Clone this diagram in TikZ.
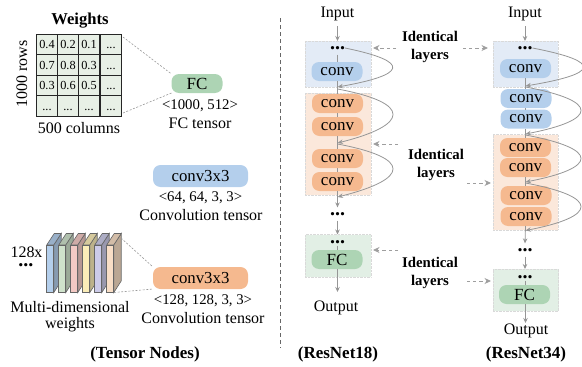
\documentclass[tikz,border=0pt]{standalone}
\usepackage{fontspec}
\setmainfont{Liberation Serif}
\usetikzlibrary{arrows.meta}
\definecolor{pillblue}{HTML}{B4CFEC}
\definecolor{pillorange}{HTML}{F5B98F}
\definecolor{pillgreen}{HTML}{ADD4B4}
\definecolor{regblue}{HTML}{E3EBF6}
\definecolor{regorange}{HTML}{FBE8DB}
\definecolor{reggreen}{HTML}{E2EFE5}
\definecolor{cellgreen}{HTML}{E8F0E6}
\definecolor{linegray}{HTML}{969696}
\definecolor{wa}{HTML}{B4CFEC}
\definecolor{wb}{HTML}{CFE2CB}
\definecolor{wc}{HTML}{F3C9C4}
\definecolor{wd}{HTML}{FBEDB8}
\definecolor{we}{HTML}{CCCBE8}
\definecolor{wf}{HTML}{F8DEC6}
\newcommand{\fsz}[1]{\fontsize{#1}{18}\selectfont}
\begin{document}
\begin{tikzpicture}[x=1pt,y=-1pt,
    every node/.style={inner sep=0pt,outer sep=0pt},
    txt/.style={font=\fsz{16}},
    small/.style={font=\fsz{14.8}},
    head/.style={font=\fsz{17}\bfseries},
    same/.style={font=\fsz{14.8}\bfseries,align=center},
    cell/.style={draw=black!85,line width=0.7pt,fill=cellgreen,minimum width=21.2pt,minimum height=20.5pt,font=\fsz{12.3},text height=8.4pt,text depth=0pt},
    pill/.style={rounded corners=7.5pt,minimum width=51pt,minimum height=19pt,font=\fsz{17}},
    widepill/.style={rounded corners=7.5pt,minimum width=95pt,minimum height=22pt,font=\fsz{16.8}},
    region/.style={draw=black!15,densely dotted,line width=0.4pt},
    dots/.style={font=\fsz{20}\bfseries},
    flow/.style={draw=linegray,line width=0.8pt,-{Stealth[length=5pt,width=4.5pt]}},
    plain/.style={draw=linegray,line width=0.8pt},
    skip/.style={draw=linegray,line width=0.8pt,-{Stealth[length=5.5pt,width=4.5pt]}},
    note/.style={draw=black!40,dash pattern=on 2pt off 1.6pt,line width=0.6pt},
    same arrow/.style={draw=black!38,dash pattern=on 3.2pt off 3pt,line width=0.9pt,-{Stealth[length=6.5pt,width=6pt]}},
    block/.style={draw=black!60,line width=0.6pt}]
    \useasboundingbox (0,0) rectangle (582,367);

    % weights table
    \node[font=\fsz{16.6}\bfseries] (weights) at (80,21) {Weights};
    \node[cell] (c11) at (47,44.5) {0.4};
    \node[cell] (c12) at (68,44.5) {0.2};
    \node[cell] (c13) at (89,44.5) {0.1};
    \node[cell] (c14) at (111,44.5) {...};
    \node[cell] (c21) at (47,65) {0.7};
    \node[cell] (c22) at (68,65) {0.8};
    \node[cell] (c23) at (89,65) {0.3};
    \node[cell] (c24) at (111,65) {...};
    \node[cell] (c31) at (47,85.5) {0.3};
    \node[cell] (c32) at (68,85.5) {0.6};
    \node[cell] (c33) at (89,85.5) {0.5};
    \node[cell] (c34) at (111,85.5) {...};
    \node[cell] (c41) at (47,106) {...};
    \node[cell] (c42) at (68,106) {...};
    \node[cell] (c43) at (89,106) {...};
    \node[cell] (c44) at (111,106) {...};
    \node[txt,rotate=90] (rows) at (22,74) {1000 rows};
    \node[txt] (columns) at (79,128.5) {500 columns};

    % tensor nodes
    \node[pill,fill=pillgreen] (fc) at (197,83.5) {FC};
    \node[small] (fcshape) at (200,106) {<1000, 512>};
    \node[txt] (fcname) at (200,123.5) {FC tensor};
    \node[widepill,fill=pillblue] (conva) at (200.5,176) {conv3x3};
    \node[small] (convashape) at (200.5,198) {<64, 64, 3, 3>};
    \node[txt] (convaname) at (201,215.5) {Convolution tensor};
    \node[widepill,fill=pillorange] (convb) at (200.5,278) {conv3x3};
    \node[small] (convbshape) at (203,301) {<128, 128, 3, 3>};
    \node[txt] (convbname) at (203,318.5) {Convolution tensor};

    % stacked weights
    \foreach \n/\x/\c in {1/46.7/wa,2/58.7/wb,3/70.7/wc,4/82.7/wd,5/94.7/we,6/106.7/wf}{
        \fill[\c!75!black,block] (\x+7,245) -- (\x+14.5,233.5) -- (\x+14.5,281) -- (\x+7,292.7) -- cycle;
        \fill[\c!85!black,block] (\x,245) -- (\x+7.5,233.5) -- (\x+14.5,233.5) -- (\x+7,245) -- cycle;
        \node[draw=black!60,line width=0.6pt,fill=\c,minimum width=7pt,minimum height=47.7pt] (w\n) at (\x+3.5,268.85) {};
    }
    \node[txt] (times) at (26.5,252) {128x};
    \node[dots] (timesdots) at (26,265) {...};
    \node[txt] (multi) at (70,307.5) {Multi-dimensional};
    \node[txt] (multib) at (70,325) {weights};
    \node[head] (tensorcap) at (145,354) {(Tensor Nodes)};

    \coordinate (gtop) at (123,37);
    \coordinate (gbot) at (123,113);
    \coordinate (wtop) at (121,238);
    \coordinate (wbot) at (114,292.5);
    \draw[note] (gtop) -- (fc.north west);
    \draw[note] (gbot) -- (fc.south west);
    \draw[note] (wtop) -- (convb.north west);
    \draw[note] (wbot) -- (convb.south west);

    % divider
    \coordinate (divtop) at (280,18);
    \coordinate (divbot) at (280,348);
    \draw[black!60,dash pattern=on 4pt off 3pt,line width=0.8pt] (divtop) -- (divbot);

    % ResNet18
    \node[region,fill=regblue,minimum width=66pt,minimum height=46pt] (r18a) at (338,64) {};
    \node[region,fill=regorange,minimum width=66pt,minimum height=102pt] (r18b) at (338,144) {};
    \node[region,fill=reggreen,minimum width=66pt,minimum height=42.5pt] (r18c) at (338,255.75) {};
    \node[txt] (in18) at (337.5,13.5) {Input};
    \node[dots] (d18a) at (337.5,48) {...};
    \node[pill,fill=pillblue] (a1) at (337,71.5) {conv};
    \node[pill,fill=pillorange] (a2) at (337.5,103.5) {conv};
    \node[pill,fill=pillorange] (a3) at (337.5,126.5) {conv};
    \node[pill,fill=pillorange] (a4) at (337.5,158.5) {conv};
    \node[pill,fill=pillorange] (a5) at (337.5,181.5) {conv};
    \node[dots] (d18b) at (337.5,214) {...};
    \node[dots] (d18c) at (337.5,242) {...};
    \node[pill,fill=pillgreen] (a6) at (337,259.5) {FC};
    \node[txt] (out18) at (336,308) {Output};
    \node[head] (cap18) at (338,354) {(ResNet18)};
    \coordinate (j18a) at (337.5,87);
    \coordinate (j18b) at (337.5,143);
    \coordinate (j18c) at (337.5,197);
    \coordinate (j18d) at (337.5,292);

    \draw[flow] (in18.south)++(0,6) -- (r18a.north -| in18);
    \draw[plain] (d18a.south -| j18a) ++(0,5) -- (a1.north -| j18a);
    \draw[plain] (a1.south -| j18a) -- (a2.north -| j18a);
    \draw[plain] (a2.south -| j18a) -- (a3.north -| j18a);
    \draw[plain] (a3.south -| j18a) -- (a4.north -| j18a);
    \draw[plain] (a4.south -| j18a) -- (a5.north -| j18a);
    \draw[flow] (a5.south -| j18a) -- ([yshift=5pt]d18b.north);
    \draw[flow] (d18b.south)++(0,5) -- (r18c.north -| d18b);
    \draw[plain] (d18c.south -| j18a) ++(0,2) -- (a6.north -| j18a);
    \draw[flow] (a6.south -| j18a) -- (j18d);
    \draw[skip] (d18a.east) .. controls +(68,14) and +(68,-12) .. (j18a);
    \draw[skip] (j18a)++(0,2) .. controls +(75,14) and +(72,-18) .. (j18b);
    \draw[skip] (j18b)++(0,1) .. controls +(75,14) and +(72,-18) .. (j18c);

    % ResNet34
    \node[region,fill=regblue,minimum width=65pt,minimum height=46pt] (r34a) at (525.5,64) {};
    \node[region,fill=regorange,minimum width=65pt,minimum height=95.5pt] (r34b) at (525.5,182.25) {};
    \node[region,fill=reggreen,minimum width=65.5pt,minimum height=42pt] (r34c) at (525.75,290) {};
    \node[txt] (in34) at (525,13.5) {Input};
    \node[dots] (d34a) at (525,48) {...};
    \node[pill,fill=pillblue] (b1) at (525.5,68.5) {conv};
    \node[pill,fill=pillblue] (b2) at (526,98.5) {conv};
    \node[pill,fill=pillblue] (b3) at (526,119) {conv};
    \node[pill,fill=pillorange] (b4) at (525.5,147.5) {conv};
    \node[pill,fill=pillorange] (b5) at (525.5,167.5) {conv};
    \node[pill,fill=pillorange] (b6) at (526,195.5) {conv};
    \node[pill,fill=pillorange] (b7) at (526,216.5) {conv};
    \node[dots] (d34b) at (525,250) {...};
    \node[dots] (d34c) at (525,277) {...};
    \node[pill,fill=pillgreen] (b8) at (524.5,294.5) {FC};
    \node[txt] (out34) at (526,331) {Output};
    \node[head] (cap34) at (526,354) {(ResNet34)};
    \coordinate (j34a) at (525.5,86);
    \coordinate (j34b) at (525.5,134);
    \coordinate (j34c) at (525.5,182);
    \coordinate (j34d) at (525.5,230.5);
    \coordinate (j34e) at (525.5,323);

    \draw[flow] (in34.south)++(0,6) -- (r34a.north -| in34);
    \draw[plain] (b1.south -| j34a) -- (b2.north -| j34a);
    \draw[plain] (b2.south -| j34a) -- (b3.north -| j34a);
    \draw[plain] (b3.south -| j34a) -- (b4.north -| j34a);
    \draw[plain] (b5.south -| j34a) -- (b6.north -| j34a);
    \draw[flow] (b7.south -| j34a) -- ([yshift=5pt]d34b.north);
    \draw[flow] (d34b.south)++(0,5) -- (r34c.north -| d34b);
    \draw[plain] (d34c.south -| j34a) ++(0,2) -- (b8.north -| j34a);
    \draw[flow] (b8.south -| j34a) -- (j34e);
    \draw[skip] (d34a.east) .. controls +(72,14) and +(72,-12) .. (j34a);
    \draw[skip] (j34a)++(0,1) .. controls +(75,14) and +(72,-14) .. (j34b);
    \draw[skip] (j34b)++(0,1) .. controls +(75,14) and +(72,-14) .. (j34c);
    \draw[skip] (j34c)++(0,1) .. controls +(75,14) and +(72,-14) .. (j34d);

    % identical layers
    \node[same] (ida) at (430,46.5) {Identical\\layers};
    \node[same] (idb) at (436,165) {Identical\\layers};
    \node[same] (idc) at (430,273) {Identical\\layers};
    \coordinate (ka1) at (396,48);
    \coordinate (ka2) at (373,48);
    \coordinate (ka3) at (463,48);
    \coordinate (ka4) at (488,48);
    \coordinate (kb1) at (398,144);
    \coordinate (kb2) at (373,144);
    \coordinate (kb3) at (467,183);
    \coordinate (kb4) at (491,183);
    \coordinate (kc1) at (398,250);
    \coordinate (kc2) at (373,250);
    \coordinate (kc3) at (467,281);
    \coordinate (kc4) at (491,281);
    \draw[same arrow] (ka1) -- (ka2);
    \draw[same arrow] (ka3) -- (ka4);
    \draw[same arrow] (kb1) -- (kb2);
    \draw[same arrow] (kb3) -- (kb4);
    \draw[same arrow] (kc1) -- (kc2);
    \draw[same arrow] (kc3) -- (kc4);
\end{tikzpicture}
\end{document}
